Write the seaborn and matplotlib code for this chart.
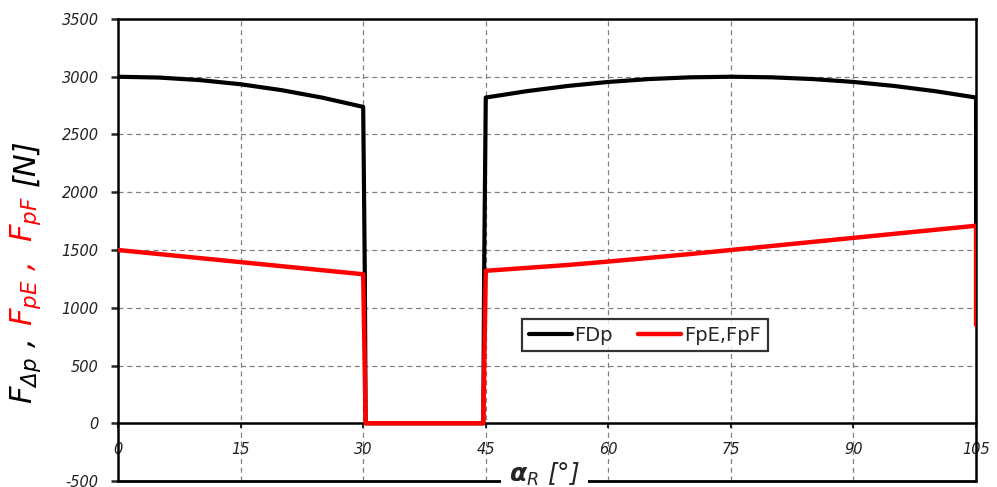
import numpy as np
import pandas as pd
import seaborn as sns
import matplotlib.pyplot as plt

# angle alpha_R [deg] and forces [N]
alpha_fdp = [0, 5, 10, 15, 20, 25, 30, 30.2, 30.3, 44.7, 44.8, 45,
             50, 55, 60, 65, 70, 75, 80, 85, 90, 95, 100, 105, 105]
fdp = [3000, 2993, 2971, 2935, 2884, 2819, 2739, 1290, 0, 0, 1320, 2820,
       2875, 2920, 2955, 2980, 2995, 3000, 2995, 2980, 2955, 2920, 2875, 2820, 1710]

alpha_fp = [0, 5, 10, 15, 20, 25, 30, 30.3, 44.7, 45,
            50, 55, 60, 65, 70, 75, 80, 85, 90, 95, 100, 105, 105]
fp = [1500, 1465, 1430, 1395, 1360, 1325, 1290, 0, 0, 1320,
      1345, 1370, 1400, 1432, 1465, 1500, 1535, 1570, 1605, 1640, 1675, 1710, 850]

x_ticks = [0, 15, 30, 45, 60, 75, 90, 105]
y_ticks = [-500, 0, 500, 1000, 1500, 2000, 2500, 3000, 3500]

sns.set_style("white")
plt.rcParams["font.family"] = ["DejaVu Sans"]
plt.rcParams["axes.unicode_minus"] = False
plt.rcParams["mathtext.fontset"] = "custom"
plt.rcParams["mathtext.it"] = "DejaVu Sans:italic"
plt.rcParams["mathtext.rm"] = "DejaVu Sans:italic"
plt.rcParams["mathtext.bf"] = "DejaVu Sans:italic:bold"

fig = plt.figure(figsize=(9.97, 4.87), dpi=100)
ax = fig.add_axes([0.1184, 0.0123, 0.8606, 0.9487])

sns.lineplot(x=alpha_fdp, y=fdp, sort=False, estimator=None, color="black",
             lw=3.0, label="FDp", ax=ax, zorder=3)
sns.lineplot(x=alpha_fp, y=fp, sort=False, estimator=None, color="#ff0000",
             lw=3.2, label="FpE,FpF", ax=ax, zorder=4)

ax.set_xlim(0, 105)
ax.set_ylim(-500, 3500)
ax.set_xticks(x_ticks)
ax.set_yticks(y_ticks)
ax.grid(True, color="#808080", linestyle=(0, (4, 3)), lw=0.9)
ax.set_axisbelow(True)

for s in ax.spines.values():
    s.set_color("black")
    s.set_linewidth(1.8)
ax.spines["bottom"].set_position(("data", 0))
ax.axhline(-500, color="black", lw=2.0, clip_on=False, zorder=5)

ax.tick_params(axis="y", direction="out", length=5, width=1.8, pad=9,
               labelsize=10.5, left=True)
ax.tick_params(axis="x", direction="out", length=3.5, width=1.5, pad=10,
               labelsize=10.5, bottom=True)
for t in ax.get_xticklabels() + ax.get_yticklabels():
    t.set_fontstyle("italic")
    t.set_color("#222222")

ax.set_xlabel("")
ax.set_ylabel("")

# x label sitting on the bottom frame
ax.text(0.497, 0.015, r"$\mathbf{\alpha}_{R}$ [°]", transform=ax.transAxes,
        ha="center", va="center", fontsize=18, fontstyle="italic",
        bbox=dict(facecolor="white", edgecolor="none", pad=6), zorder=6)

leg = ax.legend(loc="center", bbox_to_anchor=(0.614, 0.316), ncol=2,
                fontsize=14, frameon=True, fancybox=False, handlelength=2.2,
                handletextpad=0.15, columnspacing=1.3, borderpad=0.35)
leg.get_frame().set_edgecolor("black")
leg.get_frame().set_linewidth(1.6)

# y label in coloured pieces, stacked upward
fig.canvas.draw()
r = fig.canvas.get_renderer()
pieces = [(r"$F_{\Delta p}$ ,  ", "black"),
          (r"$F_{pE}$ ,  $F_{pF}$  ", "#ff0000"),
          ("[N]", "black")]
y0 = (487 - 404) / 487
for s, c in pieces:
    t = fig.text(0.026, y0, s, rotation=90, color=c, fontsize=22,
                 fontstyle="italic", ha="center", va="bottom")
    bb = t.get_window_extent(r)
    y0 += bb.height / fig.bbox.height

fig.savefig("out.png", dpi=100)
